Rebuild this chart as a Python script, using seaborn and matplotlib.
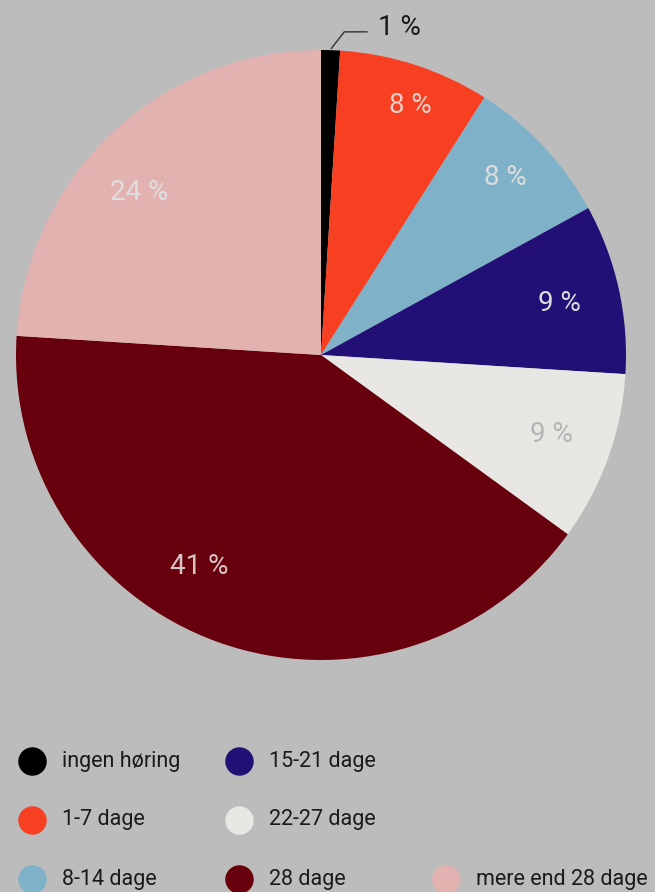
import matplotlib
matplotlib.use('Agg')
import matplotlib.pyplot as plt
import seaborn as sns
import numpy as np

# data
kategorier = ['ingen høring', '1-7 dage', '8-14 dage', '15-21 dage',
              '22-27 dage', '28 dage', 'mere end 28 dage']
andele = [1, 8, 8, 9, 9, 41, 24]
farver = ['#000000', '#f73f22', '#7fb1c9', '#221076',
          '#e8e7e3', '#67000c', '#e2b2b0']
label_farver = ['#1a1a1a', '#e6d2cc', '#dcdcdc', '#dcdcdc',
                '#b5b5b5', '#d8c6c6', '#dedede']

sns.set_theme(style='white')
plt.rcParams['font.family'] = ['Roboto', 'DejaVu Sans']
bg = '#bcbcbc'

fig = plt.figure(figsize=(6.55, 8.92), dpi=100)
fig.patch.set_facecolor(bg)

# pie axes: square box, centre ~ (321, 355) px, radius 305 px
W, H = 655, 892
cx, cy, r = 321, 355, 305
ax = fig.add_axes([(cx - r) / W, (H - cy - r) / H, 2 * r / W, 2 * r / H])
ax.set_facecolor(bg)

wedges, _ = ax.pie(andele, colors=farver, startangle=90, counterclock=False,
                   radius=1, wedgeprops=dict(linewidth=0))
ax.set_xlim(-1, 1)
ax.set_ylim(-1, 1)
ax.set_aspect('equal')
ax.axis('off')

# procent-labels (afstand fra centrum og lille vinkelforskydning)
label_r = [0, 0.87, 0.84, 0.80, 0.80, 0.80, 0.80]
label_skub = [0, -1.6, 0.7, -0.4, 0.9, -10, 5]
for i, (w, v) in enumerate(zip(wedges, andele)):
    mid = np.deg2rad((w.theta1 + w.theta2) / 2 + label_skub[i])
    if i == 0:
        x0, y0 = 1.0 * np.cos(mid), 1.0 * np.sin(mid)
        x1, y1 = x0 + 0.045, y0 + 0.06
        x2 = x1 + 0.075
        ax.plot([x0 + 0.002, x1, x2], [y0 + 0.005, y1, y1], color='#333333', lw=1,
                clip_on=False)
        ax.text(x2 + 0.035, y1 + 0.015, f'{v} %', color=label_farver[i], fontsize=20,
                ha='left', va='center', clip_on=False)
        continue
    ax.text(label_r[i] * np.cos(mid), label_r[i] * np.sin(mid), f'{v} %',
            color=label_farver[i], fontsize=20, ha='center', va='center')

# legend (kolonnevis, 3 rækker, sidste kolonne bundjusteret)
lax = fig.add_axes([0, 0, 1, 1 - 720 / H])
lax.set_facecolor('none')
lax.set_xlim(0, W)
lax.set_ylim(892, 720)
lax.axis('off')
n = len(kategorier)
for i, (k, f) in enumerate(zip(kategorier, farver)):
    col, row = divmod(i, 3)
    if col == n // 3:
        row += 3 - n % 3
    mx = 32 + col * 207
    my = 761 + row * 59
    lax.scatter([mx], [my], s=420, color=f, marker='o', linewidths=0, clip_on=False)
    lax.text(mx + 30, my, k, fontsize=15.5, color='#1a1a1a', ha='left', va='center')

fig.savefig('out.png', dpi=100, facecolor=bg)
